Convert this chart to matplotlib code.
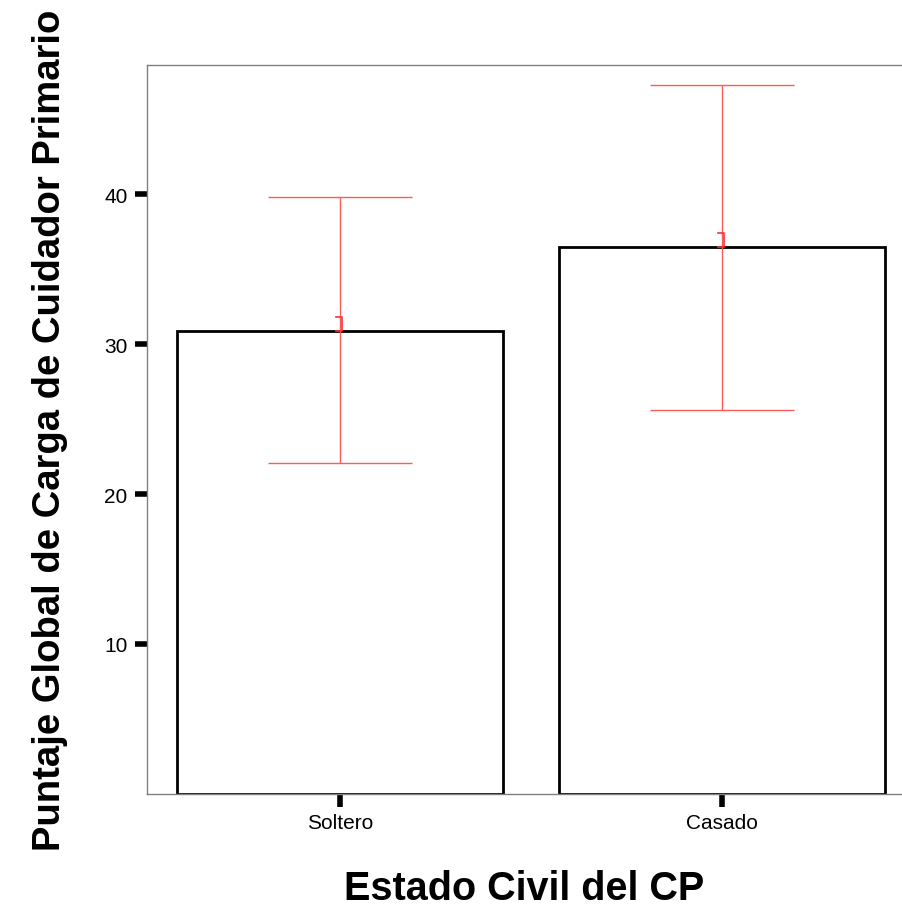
import numpy as np
import matplotlib.pyplot as plt

plt.rcParams['font.family'] = ['Liberation Sans', 'DejaVu Sans']

categories = ['Soltero', 'Casado']
means = [30.9, 36.5]
lower = [22.1, 25.6]
upper = [39.8, 47.3]

x = np.arange(len(categories))
means = np.array(means)
err = np.array([means - np.array(lower), np.array(upper) - means])

fig = plt.figure(figsize=(9.02, 9.12), dpi=100)
ax = fig.add_axes([0.163, 0.1283, 0.837, 0.7993])

ax.bar(x, means, width=0.853, color='white', edgecolor='black', linewidth=2, zorder=2)
ax.errorbar(x, means, yerr=err, fmt='none', ecolor='#ff5a5a', elinewidth=1,
            capsize=52, capthick=1, zorder=3)

# little bracket marking the mean
for xi, m in zip(x, means):
    ax.plot([xi - 0.01, xi + 0.005, xi + 0.005, xi - 0.01],
            [m + 0.9, m + 0.9, m - 0.05, m - 0.05], color='#ff3030', lw=1.2, zorder=4)

ax.set_xlim(-0.505, 1.471)
ax.set_ylim(0, 48.6)
ax.set_yticks([10, 20, 30, 40])
ax.set_xticks(x)
ax.set_xticklabels(categories)

for s in ['left', 'top', 'bottom']:
    ax.spines[s].set_color('#808080')
    ax.spines[s].set_linewidth(1)
ax.spines['right'].set_visible(False)

ax.tick_params(axis='both', direction='out', length=9, width=4, color='black',
               labelsize=15, pad=5)

ax.set_ylabel('Puntaje Global de Carga de Cuidador Primario', fontsize=27.5,
              fontweight='bold', labelpad=26)
ax.set_xlabel('Estado Civil del CP', fontsize=28.5, fontweight='bold', labelpad=26)

fig.savefig('out.png', dpi=100)
